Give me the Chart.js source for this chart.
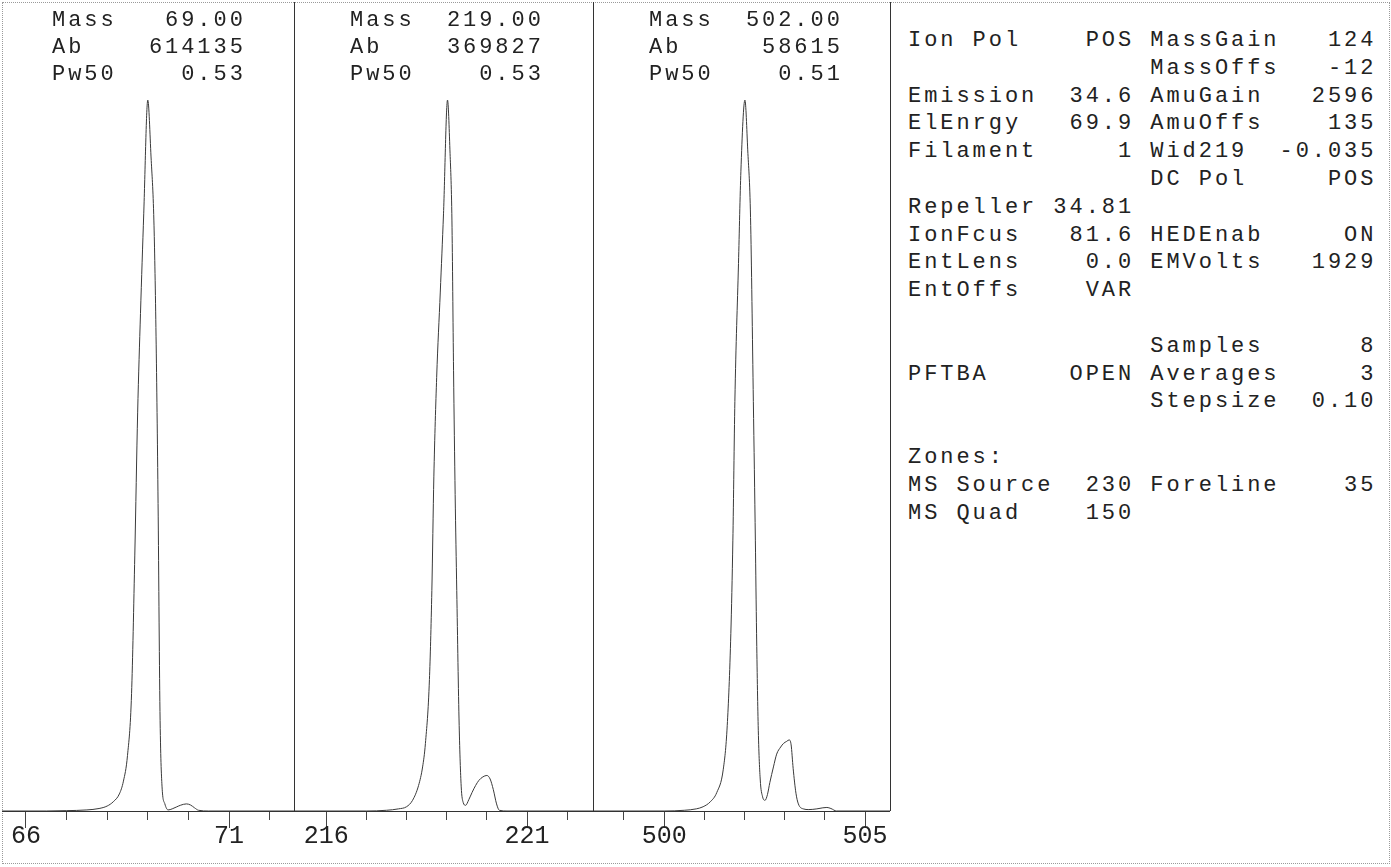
<!DOCTYPE html>
<html><head><meta charset="utf-8">
<script src="https://cdn.jsdelivr.net/npm/chart.js@4.4.1/dist/chart.umd.min.js"></script>
<style>
html,body{margin:0;padding:0;background:#fff;width:1391px;height:867px;overflow:hidden;}
#frame{position:absolute;left:2px;top:2px;width:1388px;height:862px;border:1px dotted #9a9a9a;box-sizing:border-box;}
.sep{position:absolute;top:2px;width:1px;height:809px;background:#333;}
.txt{position:absolute;white-space:pre;font-family:'Liberation Mono',monospace;font-size:22px;letter-spacing:2.95px;color:#222;}
canvas{position:absolute;}
</style></head>
<body>
<div id="frame"></div>
<canvas id="c1" width="292" height="862" style="left:2px;top:2px"></canvas>
<canvas id="c2" width="299" height="862" style="left:294px;top:2px"></canvas>
<canvas id="c3" width="297" height="862" style="left:593px;top:2px"></canvas>
<div class="sep" style="left:294px"></div>
<div class="sep" style="left:593px"></div>
<div class="sep" style="left:890px"></div>
<div id="h1" class="txt" style="left:52px;top:7px;line-height:27px"></div>
<div id="h2" class="txt" style="left:350px;top:7px;line-height:27px"></div>
<div id="h3" class="txt" style="left:649px;top:7px;line-height:27px"></div>
<div id="tune" class="txt" style="left:908px;top:27px;line-height:27.8px"></div>
<script>
// ---- Panel 1 (m/z 69) ----
const mass1 = [65.4, 66.5, 67.0, 67.5, 67.8, 68.0, 68.15, 68.3, 68.4, 68.5, 68.6, 68.68, 68.75, 68.82, 68.9, 69.0, 69.08, 69.15, 69.2, 69.25, 69.3, 69.35, 69.42, 69.5, 69.6, 69.7, 69.8, 69.95, 70.05, 70.15, 70.25, 70.5, 72.6];
const abund1 = [0, 0, 0.05, 0.15, 0.35, 0.7, 1.3, 2.4, 4.2, 7.8, 16.5, 36, 56, 70, 84, 100, 92, 83, 68, 45, 14, 3.5, 1.0, 0.15, 0.3, 0.55, 0.8, 1.0, 0.85, 0.45, 0.1, 0, 0];
const ticks1 = [66, 67, 68, 69, 70, 71, 72];
const labels1 = [66, 71];

// ---- Panel 2 (m/z 219) ----
const mass2 = [215.2, 217.0, 217.5, 217.8, 218.0, 218.15, 218.3, 218.4, 218.47, 218.57, 218.63, 218.68, 218.75, 218.84, 218.92, 219.02, 219.08, 219.13, 219.17, 219.21, 219.25, 219.31, 219.36, 219.41, 219.47, 219.55, 219.63, 219.72, 219.8, 219.9, 220.0, 220.08, 220.16, 220.24, 220.31, 220.5, 222.64];
const abund2 = [0, 0, 0.1, 0.3, 0.6, 1.5, 3.6, 6.2, 9.5, 18.5, 31, 47, 61, 73, 84, 100, 93, 83, 62, 44.5, 31, 12, 3.5, 1.2, 0.8, 1.6, 2.6, 3.6, 4.3, 4.8, 5.0, 4.5, 3.0, 1.0, 0.1, 0, 0];
const ticks2 = [216, 217, 218, 219, 220, 221, 222];
const labels2 = [216, 221];

// ---- Panel 3 (m/z 502) ----
const mass3 = [498.23, 500.0, 500.5, 500.8, 500.97, 501.15, 501.31, 501.47, 501.57, 501.66, 501.71, 501.76, 501.85, 501.91, 502.01, 502.08, 502.15, 502.22, 502.27, 502.3, 502.34, 502.39, 502.45, 502.51, 502.57, 502.63, 502.72, 502.8, 502.9, 502.97, 503.05, 503.11, 503.16, 503.21, 503.28, 503.34, 503.46, 503.6, 503.8, 503.95, 504.05, 504.15, 504.29, 505.62];
const abund3 = [0, 0, 0.1, 0.3, 0.6, 1.3, 2.6, 5.8, 12, 25, 38, 57.6, 77, 90, 100, 93, 83.5, 57.6, 38, 25, 12, 4.5, 2.0, 1.5, 2.3, 4.0, 6.2, 8.0, 9.0, 9.5, 9.8, 10.0, 9.3, 6.0, 2.5, 1.0, 0.3, 0.2, 0.3, 0.45, 0.5, 0.35, 0, 0];
const ticks3 = [499, 500, 501, 502, 503, 504, 505];
const labels3 = [500, 505];

// ---- Peak headers ----
const hdrMass = ['69.00', '219.00', '502.00'];
const hdrAb = ['614135', '369827', '58615'];
const hdrPw50 = ['0.53', '0.53', '0.51'];

// ---- Tune parameters [leftLabel, leftValue, rightLabel, rightValue] ----
const tuneRows = [
  ['Ion Pol', 'POS', 'MassGain', '124'],
  ['', '', 'MassOffs', '-12'],
  ['Emission', '34.6', 'AmuGain', '2596'],
  ['ElEnrgy', '69.9', 'AmuOffs', '135'],
  ['Filament', '1', 'Wid219', '-0.035'],
  ['', '', 'DC Pol', 'POS'],
  ['Repeller', '34.81', '', ''],
  ['IonFcus', '81.6', 'HEDEnab', 'ON'],
  ['EntLens', '0.0', 'EMVolts', '1929'],
  ['EntOffs', 'VAR', '', ''],
  ['', '', '', ''],
  ['', '', 'Samples', '8'],
  ['PFTBA', 'OPEN', 'Averages', '3'],
  ['', '', 'Stepsize', '0.10'],
  ['', '', '', ''],
  ['Zones:', '', '', ''],
  ['MS Source', '230', 'Foreline', '35'],
  ['MS Quad', '150', '', '']
];

function col(label, value) {
  if (!label && !value) return '';
  if (!value) return label;
  return label + ' '.repeat(Math.max(1, 14 - label.length - value.length)) + value;
}
document.getElementById('tune').textContent = tuneRows.map(r => {
  const l = col(r[0], r[1]);
  const rr = col(r[2], r[3]);
  return rr ? l.padEnd(15, ' ') + rr : l;
}).join('\n');

['h1', 'h2', 'h3'].forEach((id, i) => {
  document.getElementById(id).textContent =
    'Mass' + hdrMass[i].padStart(8, ' ') + '\n' +
    'Ab  ' + hdrAb[i].padStart(8, ' ') + '\n' +
    'Pw50' + hdrPw50[i].padStart(8, ' ');
});

function makeChart(id, mass, ab, xmin, xmax, tickVals, labelVals) {
  new Chart(document.getElementById(id), {
    type: 'line',
    data: { datasets: [{
      data: mass.map((m, i) => ({ x: m, y: ab[i] })),
      borderColor: '#3a3a3a', borderWidth: 1, pointRadius: 0,
      cubicInterpolationMode: 'monotone', fill: false
    }] },
    options: {
      responsive: false, animation: false, events: [],
      layout: { padding: 0 },
      plugins: { legend: { display: false }, tooltip: { enabled: false } },
      scales: {
        x: {
          type: 'linear', min: xmin, max: xmax,
          afterBuildTicks: a => { a.ticks = tickVals.map(v => ({ value: v })); },
          afterFit: a => { a.height = 53; a.paddingLeft = 0; a.paddingRight = 0; },
          grid: {
            drawOnChartArea: false, drawTicks: true, tickLength: 17,
            tickColor: '#444', tickWidth: 1,
            tickBorderDash: ctx => (ctx.tick && labelVals.includes(ctx.tick.value)) ? [] : [8, 40]
          },
          border: { display: true, color: '#333', width: 1 },
          ticks: {
            autoSkip: false, maxRotation: 0, minRotation: 0, padding: -4, color: '#222',
            font: { family: 'Liberation Mono', size: 25, lineHeight: 1 },
            callback: v => labelVals.includes(v) ? String(v) : ''
          }
        },
        y: { display: false, min: 0, max: 113.8 }
      }
    }
  });
}

makeChart('c1', mass1, abund1, 65.41, 72.60, ticks1, labels1);
makeChart('c2', mass2, abund2, 215.20, 222.64, ticks2, labels2);
makeChart('c3', mass3, abund3, 498.23, 505.62, ticks3, labels3);
</script>
</body></html>
